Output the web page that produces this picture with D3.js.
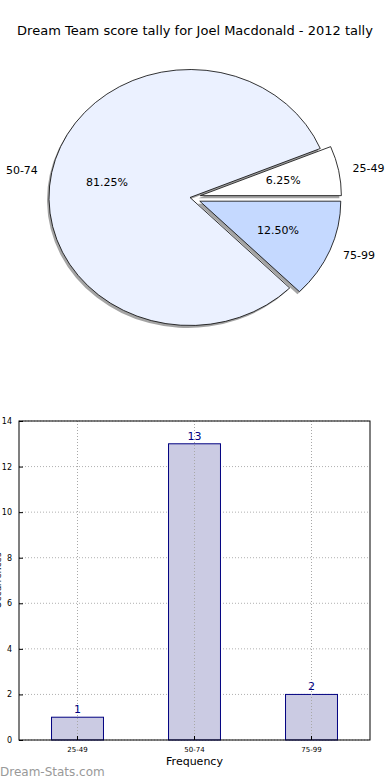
<!DOCTYPE html>
<html>
<head>
<meta charset="utf-8">
<script src="https://cdn.jsdelivr.net/npm/d3@7"></script>
<style>
  body { margin: 0; background: #fff; }
  svg { display: block; font-family: "DejaVu Sans", sans-serif; }
</style>
</head>
<body>
<svg id="chart" width="390" height="780"></svg>
<script>
var categories = ["25-49", "50-74", "75-99"];
var counts = [1, 13, 2];
var yTicks = [0, 2, 4, 6, 8, 10, 12, 14];
var titleText = "Dream Team score tally for Joel Macdonald - 2012 tally";

var sliceColors = ["#ffffff", "#ebf1ff", "#c5d9ff"];
var explode = [0.075, 0, 0.075];

var svg = d3.select("#chart");

svg.append("text")
  .attr("x", 195)
  .attr("y", 35)
  .attr("text-anchor", "middle")
  .style("font-size", "13px")
  .text(titleText);

// ---- pie (matplotlib style: starts at 3 o'clock, counter-clockwise, ellipse)
var cx = 190, cy = 197.5, ry = 128, sx = 141 / 128;

var pie = d3.pie()
  .sort(null)
  .startAngle(Math.PI / 2)
  .endAngle(Math.PI / 2 - 2 * Math.PI);

var arc = d3.arc().innerRadius(0).outerRadius(ry);
var arcs = pie(counts);
var total = d3.sum(counts);

function offset(d, i) {
  var a = (d.startAngle + d.endAngle) / 2;
  return [Math.sin(a) * ry * explode[i] * sx, -Math.cos(a) * ry * explode[i]];
}

var pg = svg.append("g");

// shadows
pg.selectAll("path.shadow")
  .data(arcs)
  .enter().append("path")
  .attr("class", "shadow")
  .attr("transform", function(d, i) {
    var o = offset(d, i);
    return "translate(" + (cx + o[0] - 2) + "," + (cy + o[1] + 2.5) + ") scale(" + sx + ",1)";
  })
  .attr("d", arc)
  .attr("fill", "#4a4a4a")
  .attr("fill-opacity", 0.5);

pg.selectAll("path.slice")
  .data(arcs)
  .enter().append("path")
  .attr("class", "slice")
  .attr("transform", function(d, i) {
    var o = offset(d, i);
    return "translate(" + (cx + o[0]) + "," + (cy + o[1]) + ") scale(" + sx + ",1)";
  })
  .attr("d", arc)
  .attr("fill", function(d, i) { return sliceColors[i]; })
  .attr("stroke", "#000")
  .attr("stroke-width", 0.8)
  .attr("vector-effect", "non-scaling-stroke");

// labels
pg.selectAll("text.lab")
  .data(arcs)
  .enter().append("text")
  .attr("class", "lab")
  .attr("x", function(d, i) {
    var a = (d.startAngle + d.endAngle) / 2;
    return cx + offset(d, i)[0] + Math.sin(a) * ry * 1.1 * sx;
  })
  .attr("y", function(d, i) {
    var a = (d.startAngle + d.endAngle) / 2;
    return cy + offset(d, i)[1] - Math.cos(a) * ry * 1.1;
  })
  .attr("dy", "0.35em")
  .attr("text-anchor", function(d) {
    var a = (d.startAngle + d.endAngle) / 2;
    return Math.sin(a) < 0 ? "end" : "start";
  })
  .style("font-size", "11px")
  .text(function(d, i) { return categories[i]; });

pg.selectAll("text.pct")
  .data(arcs)
  .enter().append("text")
  .attr("class", "pct")
  .attr("x", function(d, i) {
    var a = (d.startAngle + d.endAngle) / 2;
    return cx + offset(d, i)[0] + Math.sin(a) * ry * 0.6 * sx;
  })
  .attr("y", function(d, i) {
    var a = (d.startAngle + d.endAngle) / 2;
    return cy + offset(d, i)[1] - Math.cos(a) * ry * 0.6;
  })
  .attr("dy", "0.35em")
  .attr("text-anchor", "middle")
  .style("font-size", "11px")
  .text(function(d) { return (d.value / total * 100).toFixed(2) + "%"; });

// ---- bar chart
var plotLeft = 19, plotRight = 370, plotTop = 421, plotBottom = 740;

var x = d3.scaleBand()
  .domain(categories)
  .range([plotLeft, plotRight])
  .paddingInner(0.556)
  .paddingOuter(0.278);

var y = d3.scaleLinear()
  .domain([0, 14])
  .range([plotBottom, plotTop]);

var bg = svg.append("g");

// grid
bg.selectAll("line.hgrid")
  .data(yTicks)
  .enter().append("line")
  .attr("x1", plotLeft).attr("x2", plotRight)
  .attr("y1", function(d) { return y(d); })
  .attr("y2", function(d) { return y(d); })
  .attr("stroke", "#b0b0b0")
  .attr("stroke-dasharray", "1,2");

bg.selectAll("rect.bar")
  .data(counts)
  .enter().append("rect")
  .attr("x", function(d, i) { return x(categories[i]); })
  .attr("y", function(d) { return y(d); })
  .attr("width", x.bandwidth())
  .attr("height", function(d) { return y(0) - y(d); })
  .attr("fill", "#cbcbe3")
  .attr("stroke", "#000080")
  .attr("stroke-width", 1);

// vertical grid drawn over the bars
bg.selectAll("line.vgrid")
  .data(categories)
  .enter().append("line")
  .attr("x1", function(d) { return x(d) + x.bandwidth() / 2; })
  .attr("x2", function(d) { return x(d) + x.bandwidth() / 2; })
  .attr("y1", plotTop).attr("y2", plotBottom)
  .attr("stroke", "#a8a8a8")
  .attr("stroke-dasharray", "1,2");

bg.selectAll("text.val")
  .data(counts)
  .enter().append("text")
  .attr("x", function(d, i) { return x(categories[i]) + x.bandwidth() / 2; })
  .attr("y", function(d) { return y(d) - 4; })
  .attr("text-anchor", "middle")
  .attr("fill", "#000080")
  .style("font-size", "11px")
  .text(function(d) { return d; });

// frame
bg.append("rect")
  .attr("x", plotLeft).attr("y", plotTop)
  .attr("width", plotRight - plotLeft).attr("height", plotBottom - plotTop)
  .attr("fill", "none")
  .attr("stroke", "#000");

// axes
var yAxis = bg.append("g")
  .attr("transform", "translate(" + plotLeft + ",0)")
  .call(d3.axisLeft(y).tickValues(yTicks).tickSizeInner(-4).tickSizeOuter(0).tickPadding(7));
yAxis.select(".domain").remove();
yAxis.selectAll("text").style("font-size", "8px").style("font-family", "DejaVu Sans, sans-serif");

var xAxis = bg.append("g")
  .attr("transform", "translate(0," + plotBottom + ")")
  .call(d3.axisBottom(x).tickSizeInner(-4).tickSizeOuter(0).tickPadding(7));
xAxis.select(".domain").remove();
xAxis.selectAll("text").style("font-size", "7px").style("font-family", "DejaVu Sans, sans-serif");

svg.append("text")
  .attr("x", (plotLeft + plotRight) / 2)
  .attr("y", 765)
  .attr("text-anchor", "middle")
  .style("font-size", "11px")
  .text("Frequency");

svg.append("text")
  .attr("transform", "translate(1," + ((plotTop + plotBottom) / 2) + ") rotate(-90)")
  .attr("text-anchor", "middle")
  .style("font-size", "9px")
  .text("Occurrences");

svg.append("text")
  .attr("x", 0)
  .attr("y", 776)
  .attr("fill", "#999")
  .style("font-size", "12px")
  .text("Dream-Stats.com");
</script>
</body>
</html>
